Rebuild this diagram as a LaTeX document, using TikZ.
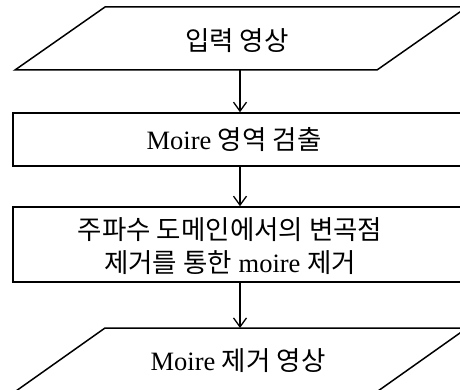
\documentclass[tikz,border=0pt]{standalone}
\usepackage{fontspec}
\setmainfont{Liberation Serif}
\newfontfamily\kr{Noto Sans CJK KR}
\usetikzlibrary{arrows.meta}
\tikzset{
  shapeline/.style={draw=black, line width=1.5pt},
  lbl/.style={font=\fontsize{26.5}{33}\selectfont, align=center, inner sep=0pt},
  flow/.style={draw=black, line width=1.3pt, -{Straight Barb[length=9pt,width=13pt,line width=1.3pt]}}
}
\begin{document}
\begin{tikzpicture}[x=1pt,y=-1pt]
\useasboundingbox (0,0) rectangle (460,390);
\clip (0,0) rectangle (460,390);
% top parallelogram
\coordinate (p1bl) at (15,70);
\coordinate (p1tl) at (105,7);
\coordinate (p1tr) at (467,7);
\coordinate (p1br) at (377,70);
\draw[shapeline] (p1bl) -- (p1tl) -- (p1tr) -- (p1br) -- cycle;
\coordinate (p1s) at (240,70);
\node[lbl] (t1) at (237,41) {\kr 입력 영상};
% rectangle 1
\node[shapeline, minimum width=456pt, minimum height=53pt, inner sep=0pt] (r1) at (241,139.5) {};
\node[lbl] (t2) at (234,140) {Moire {\kr 영역 검출}};
% rectangle 2
\node[shapeline, minimum width=456pt, minimum height=75pt, inner sep=0pt] (r2) at (241,244.5) {};
\node[lbl] (t3) at (230,246) {\kr 주파수 도메인에서의 변곡점\\{\kr 제거를 통한} moire {\kr 제거}};
% bottom parallelogram
\coordinate (p2bl) at (16,391);
\coordinate (p2tl) at (105,328);
\coordinate (p2tr) at (467,328);
\coordinate (p2br) at (378,391);
\draw[shapeline] (p2bl) -- (p2tl) -- (p2tr) -- (p2br) -- cycle;
\coordinate (p2n) at (240,328);
\node[lbl] (t4) at (238,361) {Moire {\kr 제거 영상}};
% connectors
\draw[flow] (p1s) -- (r1.north -| p1s);
\draw[flow] (r1.south -| p1s) -- (r2.north -| p1s);
\draw[flow] (r2.south -| p1s) -- (p2n);
\end{tikzpicture}
\end{document}
